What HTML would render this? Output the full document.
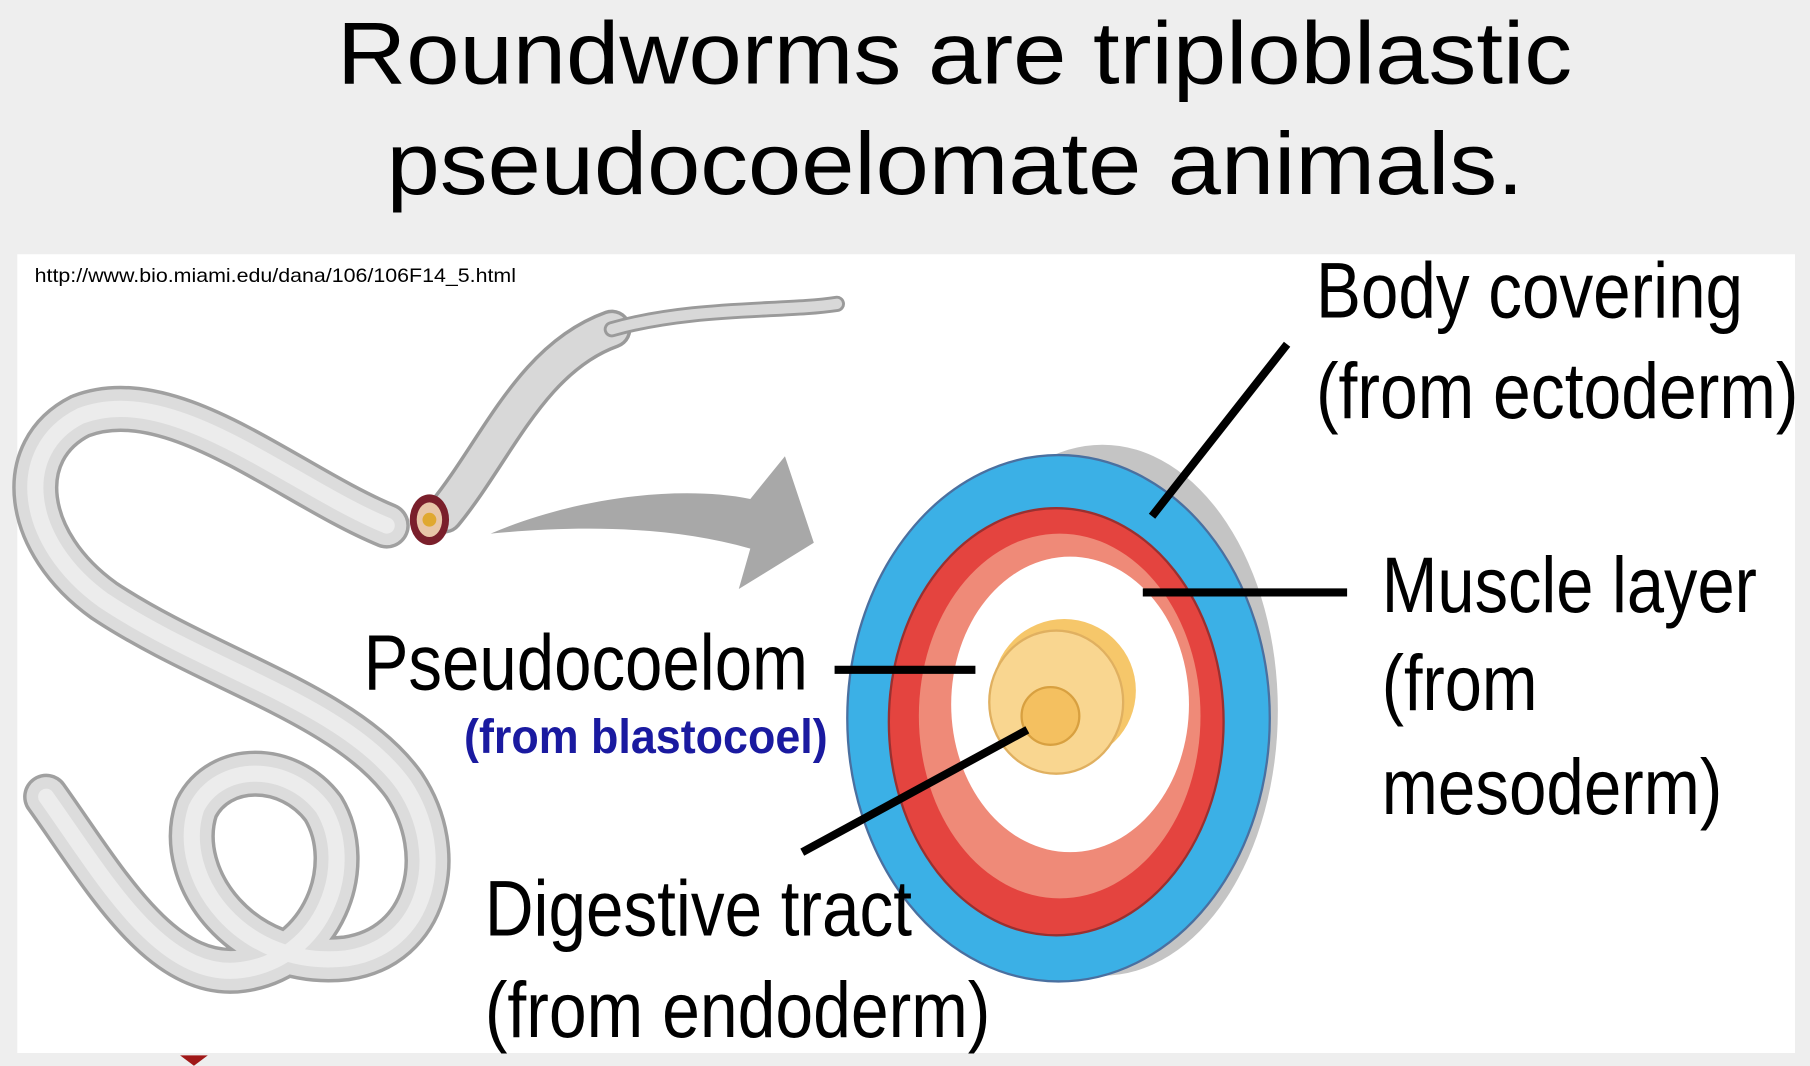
<!DOCTYPE html>
<html><head><meta charset="utf-8"><style>html,body{margin:0;padding:0;background:#eeeeee;}svg{display:block}</style></head>
<body>
<svg width="1810" height="1066" viewBox="0 0 1568 923" xmlns="http://www.w3.org/2000/svg">
<rect width="1568" height="923" fill="#eeeeee"/>
<g font-family="Liberation Sans, Arial, sans-serif" fill="#000">
<text x="292" y="72" font-size="76" textLength="1070" lengthAdjust="spacingAndGlyphs">Roundworms are triploblastic</text>
<text x="335" y="168" font-size="76" textLength="985" lengthAdjust="spacingAndGlyphs">pseudocoelomate animals.</text>
</g>
<rect x="15" y="220" width="1540" height="692" fill="#ffffff"/>
<text x="30" y="244" font-family="Liberation Sans, sans-serif" font-size="16.5" textLength="417" lengthAdjust="spacingAndGlyphs">http://www.bio.miami.edu/dana/106/106F14_5.html</text>
<!-- worm -->
<g fill="none" stroke-linecap="round" stroke-linejoin="round">
<path d="M335 455 C250 420,150 330,70 360 C10 390,20 470,90 520 C180 580,300 610,350 680 C390 740,370 820,300 830 C210 840,150 760,170 700 C190 660,250 660,280 700 C310 750,280 830,210 840 C140 850,90 760,40 690" stroke="#a0a0a0" stroke-width="40"/>
<path d="M335 455 C250 420,150 330,70 360 C10 390,20 470,90 520 C180 580,300 610,350 680 C390 740,370 820,300 830 C210 840,150 760,170 700 C190 660,250 660,280 700 C310 750,280 830,210 840 C140 850,90 760,40 690" stroke="#dcdcdc" stroke-width="34"/>
<path d="M335 455 C250 420,150 330,70 360 C10 390,20 470,90 520 C180 580,300 610,350 680 C390 740,370 820,300 830 C210 840,150 760,170 700 C190 660,250 660,280 700 C310 750,280 830,210 840 C140 850,90 760,40 690" stroke="#ececec" stroke-width="14"/>
<path d="M385 445 C430 390,460 310,530 285" stroke="#9a9a9a" stroke-width="34"/>
<path d="M385 445 C430 390,460 310,530 285" stroke="#d8d8d8" stroke-width="28"/>
<path d="M530 285 C600 265,680 270,725 263" stroke="#9a9a9a" stroke-width="14"/>
<path d="M530 285 C600 265,680 270,725 263" stroke="#d8d8d8" stroke-width="9"/>
</g>
<ellipse cx="372" cy="450" rx="17" ry="22" fill="#7a1f2b"/>
<ellipse cx="372" cy="450" rx="11" ry="15" fill="#e8c6a8"/>
<circle cx="372" cy="450" r="6" fill="#e0a830"/>
<!-- arrow -->
<path d="M425 462 C500 430,590 420,650 432 L680 395 L705 470 L640 510 L650 475 C580 455,500 455,425 462 Z" fill="#a8a8a8"/>
<!-- disk -->
<ellipse cx="955" cy="615" rx="152" ry="230" fill="#c4c4c4"/>
<ellipse cx="917" cy="622" rx="183" ry="228" fill="#3bb0e6" stroke="#4a70a0" stroke-width="2"/>
<ellipse cx="915" cy="625" rx="145" ry="185" fill="#e4443f" stroke="#9a3030" stroke-width="2"/>
<ellipse cx="918" cy="620" rx="122" ry="158" fill="#ef8a78"/>
<ellipse cx="927" cy="610" rx="103" ry="128" fill="#ffffff"/>
<ellipse cx="922" cy="598" rx="62" ry="62" fill="#f6c76a"/>
<ellipse cx="915" cy="608" rx="58" ry="62" fill="#f9d690" stroke="#e0b060" stroke-width="2"/>
<circle cx="910" cy="620" r="25" fill="#f4c060" stroke="#d8a040" stroke-width="2"/>
<!-- lines -->
<g stroke="#000" stroke-width="7">
<line x1="998" y1="447" x2="1115" y2="298"/>
<line x1="990" y1="513" x2="1167" y2="513"/>
<line x1="723" y1="580" x2="845" y2="580"/>
<line x1="695" y1="738" x2="890" y2="632"/>
</g>
<g font-family="Liberation Sans Narrow, Liberation Sans, sans-serif" font-size="68" fill="#000">
<text x="1140" y="275" textLength="370" lengthAdjust="spacingAndGlyphs">Body covering</text>
<text x="1140" y="362" textLength="418" lengthAdjust="spacingAndGlyphs">(from ectoderm)</text>
<text x="1197" y="530" textLength="325" lengthAdjust="spacingAndGlyphs">Muscle layer</text>
<text x="1197" y="615" textLength="135" lengthAdjust="spacingAndGlyphs">(from</text>
<text x="1197" y="705" textLength="295" lengthAdjust="spacingAndGlyphs">mesoderm)</text>
<text x="315" y="597" textLength="385" lengthAdjust="spacingAndGlyphs">Pseudocoelom</text>
<text x="420" y="810" textLength="370" lengthAdjust="spacingAndGlyphs">Digestive tract</text>
<text x="420" y="898" textLength="438" lengthAdjust="spacingAndGlyphs">(from endoderm)</text>
</g>
<text x="402" y="652" font-family="Liberation Sans Narrow, Liberation Sans, sans-serif" font-weight="bold" font-size="42" fill="#1a1aa0" textLength="315" lengthAdjust="spacingAndGlyphs">(from blastocoel)</text>
<path d="M156 914 L180 914 L168 923 Z" fill="#a01818"/>
</svg>
</body></html>
